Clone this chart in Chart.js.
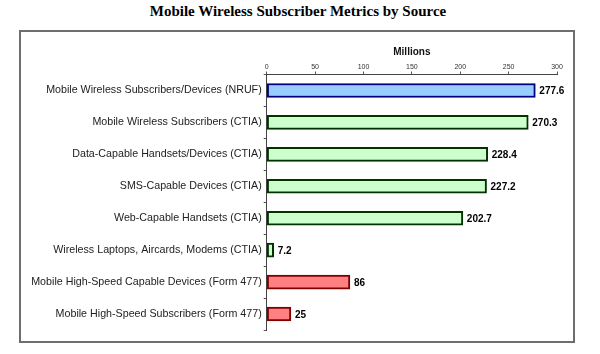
<!DOCTYPE html>
<html>
<head>
<meta charset="utf-8">
<title>Mobile Wireless Subscriber Metrics by Source</title>
<script src="https://cdn.jsdelivr.net/npm/chart.js@4/dist/chart.umd.min.js"></script>
<style>
  html, body { margin: 0; padding: 0; background: #fff; }
  #wrap { position: relative; width: 600px; height: 354px; overflow: hidden; }
  #title {
    position: absolute; left: 0; top: 3px; width: 596px; text-align: center;
    font: bold 15px "Liberation Serif", "Times New Roman", serif; color: #000;
  }
  #frame {
    position: absolute; left: 19px; top: 30px; width: 556px; height: 313px;
    box-sizing: border-box; border: 2px solid #6e6e6e;
  }
  #chart { position: absolute; left: 0; top: 0; }
</style>
</head>
<body>
<div id="wrap">
  <div id="title">Mobile Wireless Subscriber Metrics by Source</div>
  <div id="frame"></div>
  <canvas id="chart" width="600" height="354"></canvas>
</div>
<script>
// Data
const categories = [
  "Mobile Wireless Subscribers/Devices (NRUF)",
  "Mobile Wireless Subscribers (CTIA)",
  "Data-Capable Handsets/Devices (CTIA)",
  "SMS-Capable Devices (CTIA)",
  "Web-Capable Handsets (CTIA)",
  "Wireless Laptops, Aircards, Modems (CTIA)",
  "Mobile High-Speed Capable Devices (Form 477)",
  "Mobile High-Speed Subscribers (Form 477)"
];
const values = [277.6, 270.3, 228.4, 227.2, 202.7, 7.2, 86, 25];
const sources = ["NRUF", "CTIA", "CTIA", "CTIA", "CTIA", "CTIA", "477", "477"];
const xTicks = [0, 50, 100, 150, 200, 250, 300];

const FILL = { NRUF: "#99ccff", CTIA: "#ccffcc", "477": "#ff8080" };
const EDGE = { NRUF: "#000080", CTIA: "#003300", "477": "#800000" };

// value labels to the right of each bar
const valueLabels = {
  id: "valueLabels",
  afterDatasetsDraw(chart) {
    const ctx = chart.ctx;
    const meta = chart.getDatasetMeta(0);
    ctx.save();
    ctx.font = "bold 10px 'Liberation Sans', Arial, sans-serif";
    ctx.fillStyle = "#000";
    ctx.textAlign = "left";
    ctx.textBaseline = "middle";
    meta.data.forEach((bar, i) => {
      ctx.fillText(String(values[i]), bar.x + 4, bar.y + 1);
    });
    ctx.restore();
  }
};

new Chart(document.getElementById("chart").getContext("2d"), {
  type: "bar",
  data: {
    labels: categories,
    datasets: [{
      data: values,
      backgroundColor: sources.map(s => FILL[s]),
      borderColor: sources.map(s => EDGE[s]),
      borderWidth: 2,
      borderSkipped: false,
      barThickness: 14
    }]
  },
  options: {
    indexAxis: "y",
    responsive: false,
    maintainAspectRatio: false,
    animation: false,
    layout: { padding: { left: 20, right: 43, top: 38, bottom: 24 } },
    plugins: { legend: { display: false }, tooltip: { enabled: false } },
    scales: {
      x: {
        position: "top",
        min: 0, max: 300,
        afterBuildTicks: s => { s.ticks = xTicks.map(v => ({ value: v })); },
        afterFit: s => { s.height = 36.5; },
        title: {
          display: true, text: "Millions", color: "#111",
          font: { family: "'Liberation Sans', Arial, sans-serif", size: 10, weight: "bold" },
          padding: { top: 8, bottom: 0 }
        },
        ticks: {
          color: "#333", padding: 0,
          font: { family: "'Liberation Sans', Arial, sans-serif", size: 7 }
        },
        grid: { drawOnChartArea: false, tickLength: 3, color: "#555" },
        border: { color: "#444", width: 1 }
      },
      y: {
        afterFit: s => { s.width = 246.7; },
        ticks: {
          color: "#222", padding: 2,
          font: { family: "'Liberation Sans', Arial, sans-serif", size: 10.7 }
        },
        grid: { drawOnChartArea: false, tickLength: 3, color: "#555" },
        border: { color: "#444", width: 1 }
      }
    }
  },
  plugins: [valueLabels]
});
</script>
</body>
</html>
